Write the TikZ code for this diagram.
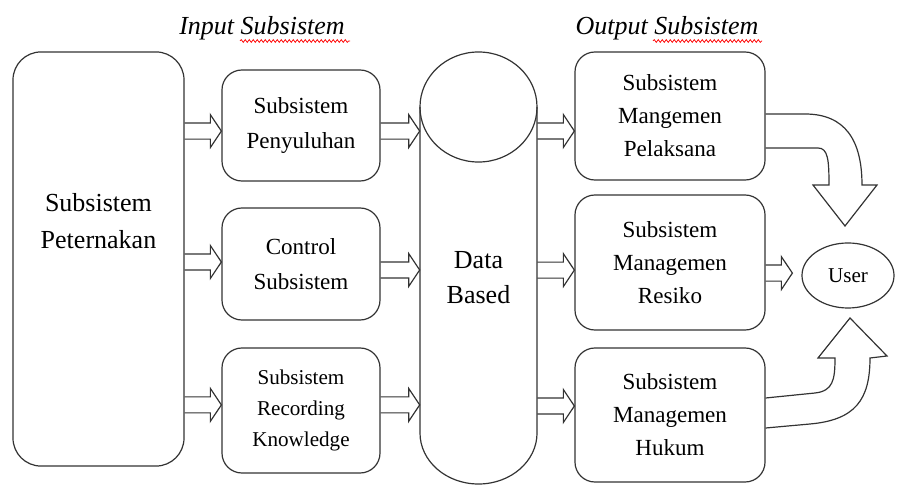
\documentclass[tikz,border=0pt]{standalone}
\usepackage{fontspec}
\setmainfont{Liberation Serif}
\usepackage{tikz}
\usetikzlibrary{calc,shapes.geometric,decorations.pathmorphing}

\tikzset{
  outline/.style={draw=black!80, line width=0.85pt},
  box/.style={outline, rounded corners=0.5cm, inner sep=0pt, align=center},
  inbox/.style={box, minimum width=3.95cm, font=\fontsize{16.4}{25}\selectfont},
  outbox/.style={box, minimum width=4.75cm, font=\fontsize{16.4}{23.5}\selectfont},
  hollow/.style={outline, line join=miter},
  bigarrow/.style={outline, line join=miter},
  title/.style={font=\fontsize{18.5}{22}\selectfont\itshape},
  squiggle/.style={red, line width=0.5pt, decorate,
    decoration={snake, amplitude=0.035cm, segment length=0.1cm}}
}

\newcommand{\hollowarrow}[2]{%
  \draw[hollow] let \p1=#1, \p2=#2 in
    (\x1,\y2+0.2cm) -- (\x2-0.275cm,\y2+0.2cm) -- (\x2-0.275cm,\y2+0.41cm) -- (\x2,\y2)
    -- (\x2-0.275cm,\y2-0.41cm) -- (\x2-0.275cm,\y2-0.2cm) -- (\x1,\y2-0.2cm);
}

\begin{document}
\begin{tikzpicture}[x=0.025cm, y=-0.025cm]
  \useasboundingbox (0,0) rectangle (897,485);

  \node[title] (intitle) at (262,28) {Input Subsistem};
  \node[title] (outtitle) at (667,28) {Output Subsistem};
  \draw[squiggle] (240,41) -- (350,41);
  \draw[squiggle] (653,41) -- (762,41);

  \node[box, rounded corners=0.7cm, minimum width=4.275cm, minimum height=10.35cm] (peternakan) at (98.5,259) {};
  \node[font=\fontsize{18.5}{26}\selectfont, align=center] (peternakanlbl) at (98.5,221) {Subsistem\\Peternakan};

  \node[inbox, minimum height=2.775cm] (penyuluhan) at (301,125.5) {Subsistem\\Penyuluhan};
  \node[inbox, minimum height=2.8cm] (control) at (301,264) {Control\\Subsistem};
  \node[inbox, minimum height=3.125cm, font=\fontsize{15}{22}\selectfont] (recording) at (301,410.5) {Subsistem\\Recording\\Knowledge};

  \draw[outline] (478.5,107) ellipse [x radius=1.4625cm, y radius=1.375cm];
  \draw[outline] (420,107) -- (420,433) arc [start angle=180, end angle=360, x radius=1.4625cm, y radius=1.275cm] -- (537,107);
  \node[minimum width=2.925cm, inner sep=0pt, align=center, font=\fontsize{18.5}{25}\selectfont] (data) at (478.5,278) {Data\\Based};

  \node[outbox, minimum height=3.2cm] (pelaksana) at (670,116) {Subsistem\\Mangemen\\Pelaksana};
  \node[outbox, minimum height=3.375cm] (resiko) at (670,262.5) {Subsistem\\Managemen\\Resiko};
  \node[outbox, minimum height=3.35cm] (hukum) at (670,415) {Subsistem\\Managemen\\Hukum};

  \node[outline, ellipse, minimum width=2.3cm, minimum height=1.625cm, inner sep=0pt, font=\fontsize{15}{18}\selectfont] (user) at (848,275.5) {User};

  \hollowarrow{(peternakan.east)}{([yshift=-0.14cm]penyuluhan.west)}
  \hollowarrow{(peternakan.east)}{([yshift=0.05cm]control.west)}
  \hollowarrow{(peternakan.east)}{([yshift=0.14cm]recording.west)}
  \hollowarrow{(penyuluhan.east)}{($(data.west |- penyuluhan.east)+(0,-0.14cm)$)}
  \hollowarrow{(control.east)}{($(data.west |- control.east)+(0,-0.15cm)$)}
  \hollowarrow{(recording.east)}{($(data.west |- recording.east)+(0,0.14cm)$)}
  \hollowarrow{(data.east)}{([yshift=-0.375cm]pelaksana.west)}
  \hollowarrow{(data.east)}{([yshift=-0.19cm]resiko.west)}
  \hollowarrow{(data.east)}{([yshift=0.225cm]hukum.west)}
  \hollowarrow{(resiko.east)}{([xshift=-0.225cm,yshift=0.06cm]user.west)}

  \draw[bigarrow] ([yshift=0.05cm]pelaksana.east) -- (805,114) .. controls (845,114) and (862,140) .. (862,185)
    -- (877,185) -- (845,226) -- (813,185) -- (829,185) .. controls (829,160) and (828,148) .. (818,148)
    -- ([yshift=-0.8cm]pelaksana.east);
  \draw[bigarrow] ([yshift=0.425cm]hukum.east) -- (815,393) .. controls (833,391) and (835,380) .. (835,358)
    -- (818,358) -- (850,318) -- (887,356) -- (870,358) .. controls (870,400) and (855,420) .. (810,424)
    -- ([yshift=-0.325cm]hukum.east);
\end{tikzpicture}
\end{document}
